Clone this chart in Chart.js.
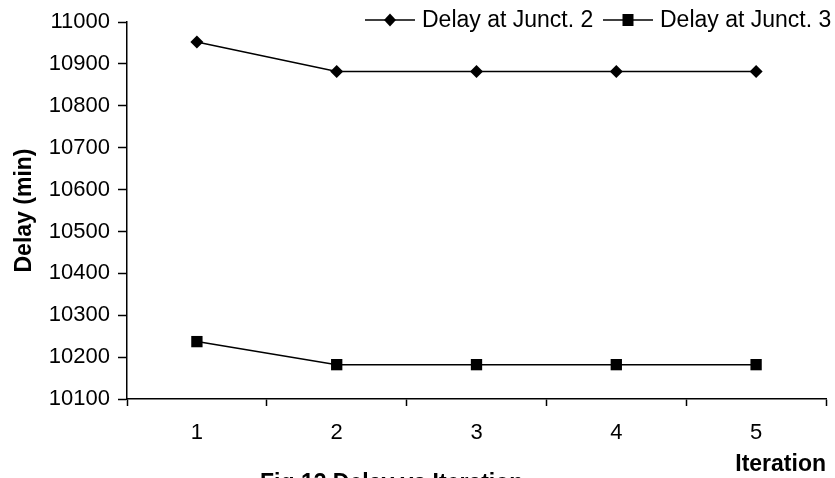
<!DOCTYPE html>
<html lang="en">
<head>
    <meta charset="UTF-8">
    <title>Delay vs Iteration</title>
    <style>
        html, body {
            margin: 0;
            padding: 0;
            background: white;
            overflow: hidden;
        }
        .chart-box {
            width: 835px;
            height: 478px;
            position: relative;
        }
    </style>
    <script src="https://cdn.jsdelivr.net/npm/chart.js@4.4.1/dist/chart.umd.min.js"></script>
</head>
<body>
    <div class="chart-box">
        <canvas id="myChart"></canvas>
    </div>
    <script>
        // data
        const iterations = ['1', '2', '3', '4', '5'];
        const delayJunct2 = [10952, 10882, 10882, 10882, 10882];
        const delayJunct3 = [10237, 10182, 10182, 10182, 10182];
        const seriesNames = ['Delay at Junct. 2', 'Delay at Junct. 3'];
        const captionText = 'Fig.13 Delay vs Iteration';

        const FONT = "'Liberation Sans', Arial, sans-serif";

        function marker(ctx, style, x, y) {
            ctx.beginPath();
            if (style === 'rectRot') {
                ctx.moveTo(x, y - 6.5);
                ctx.lineTo(x + 6, y);
                ctx.lineTo(x, y + 6.5);
                ctx.lineTo(x - 6, y);
                ctx.closePath();
            } else {
                ctx.rect(x - 5.5, y - 6, 11, 12);
            }
            ctx.fill();
        }

        // legend with line + marker, like the old excel charts
        const lineLegend = {
            id: 'lineLegend',
            afterDraw(chart) {
                const ctx = chart.ctx;
                const entries = [
                    { x: 365, style: 'rectRot', text: seriesNames[0] },
                    { x: 603, style: 'rect', text: seriesNames[1] }
                ];
                const y = 20;
                ctx.save();
                ctx.fillStyle = '#000';
                ctx.strokeStyle = '#000';
                ctx.lineWidth = 1.5;
                ctx.font = '23px ' + FONT;
                ctx.textBaseline = 'middle';
                entries.forEach(e => {
                    ctx.beginPath();
                    ctx.moveTo(e.x, y);
                    ctx.lineTo(e.x + 50, y);
                    ctx.stroke();
                    marker(ctx, e.style, e.x + 25, y);
                    ctx.fillText(e.text, e.x + 57, y + 1);
                });
                // caption, cut by the bottom edge
                ctx.font = 'bold 23px ' + FONT;
                ctx.textBaseline = 'alphabetic';
                ctx.fillText(captionText, 260, 490);
                ctx.restore();
            }
        };

        const ctx = document.getElementById('myChart').getContext('2d');
        new Chart(ctx, {
            type: 'line',
            data: {
                labels: iterations,
                datasets: [{
                    label: seriesNames[0],
                    data: delayJunct2,
                    borderColor: '#000',
                    backgroundColor: '#000',
                    borderWidth: 1.5,
                    pointStyle: 'rectRot',
                    pointRadius: 6.5,
                    pointBorderWidth: 0,
                    tension: 0
                }, {
                    label: seriesNames[1],
                    data: delayJunct3,
                    borderColor: '#000',
                    backgroundColor: '#000',
                    borderWidth: 1.5,
                    pointStyle: 'rect',
                    pointRadius: 8,
                    pointBorderWidth: 0,
                    tension: 0
                }]
            },
            options: {
                responsive: true,
                maintainAspectRatio: false,
                animation: false,
                layout: {
                    padding: { top: 22, right: 9, left: 0, bottom: 0 }
                },
                scales: {
                    x: {
                        offset: true,
                        grid: {
                            offset: true,
                            drawOnChartArea: false,
                            color: '#000',
                            tickLength: 7,
                            tickWidth: 1.5
                        },
                        border: { color: '#000', width: 1.5 },
                        ticks: {
                            color: '#000',
                            padding: 14,
                            font: { family: FONT, size: 22 }
                        },
                        title: {
                            display: true,
                            text: 'Iteration',
                            align: 'end',
                            color: '#000',
                            padding: 0,
                            font: { family: FONT, size: 23, weight: 'bold' }
                        },
                        afterFit(scale) { scale.height = 79; }
                    },
                    y: {
                        min: 10100,
                        max: 11000,
                        grid: {
                            drawOnChartArea: false,
                            color: '#000',
                            tickLength: 9,
                            tickWidth: 1.5
                        },
                        border: { color: '#000', width: 1.5 },
                        ticks: {
                            stepSize: 100,
                            color: '#000',
                            padding: 8,
                            font: { family: FONT, size: 22 },
                            callback: v => String(v)
                        },
                        title: {
                            display: true,
                            text: 'Delay (min)',
                            color: '#000',
                            padding: { top: 11, bottom: 0 },
                            font: { family: FONT, size: 23, weight: 'bold' }
                        },
                        afterFit(scale) { scale.width = 127; }
                    }
                },
                plugins: {
                    legend: { display: false },
                    tooltip: { enabled: false }
                }
            },
            plugins: [lineLegend]
        });
    </script>
</body>
</html>
